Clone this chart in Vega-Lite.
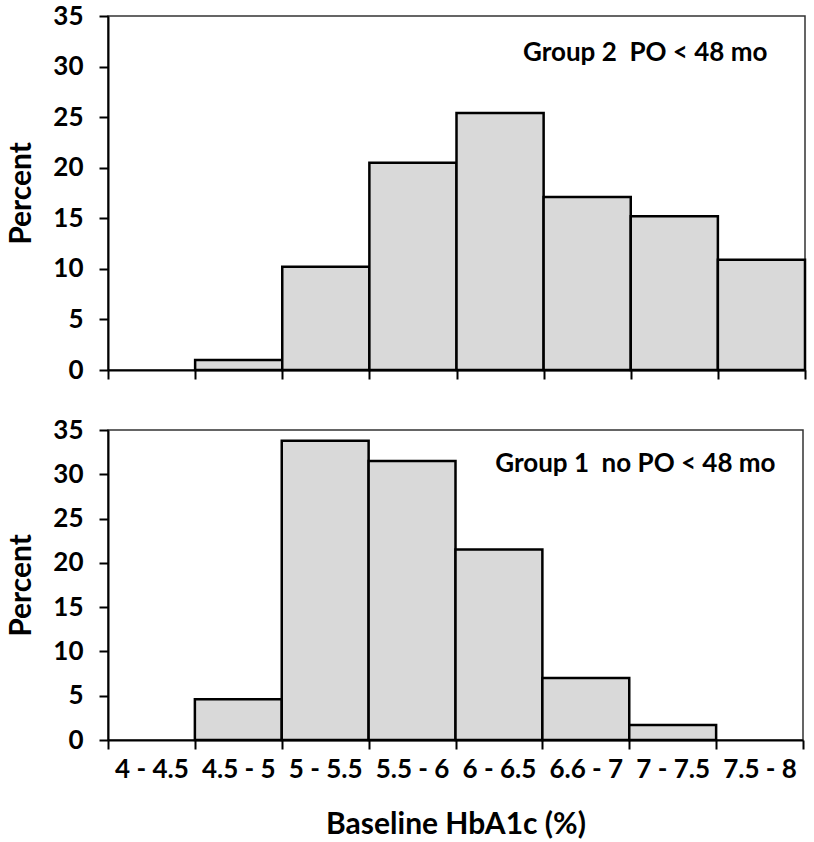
{
  "$schema": "https://vega.github.io/schema/vega-lite/v6.json",
  "background": "white",
  "padding": {"left": 6, "top": 2, "right": 5, "bottom": 0},
  "spacing": 32,
  "config": {
    "font": "Lato",
    "view": {"stroke": "#333333", "strokeWidth": 1.5},
    "axis": {
      "grid": false,
      "domainColor": "black",
      "domainWidth": 2,
      "tickColor": "black",
      "tickWidth": 2,
      "tickSize": 9,
      "labelFont": "Lato",
      "labelFontWeight": "bold",
      "labelFontSize": 26,
      "labelColor": "black",
      "titleFont": "Lato",
      "titleFontWeight": "bold",
      "titleFontSize": 30,
      "titleColor": "black"
    }
  },
  "datasets": {
    "bins": [
      {"group": "Group 2", "bin": "4.5 - 5", "pct": 1.0},
      {"group": "Group 2", "bin": "5 - 5.5", "pct": 10.2},
      {"group": "Group 2", "bin": "5.5 - 6", "pct": 20.5},
      {"group": "Group 2", "bin": "6 - 6.5", "pct": 25.4},
      {"group": "Group 2", "bin": "6.6 - 7", "pct": 17.1},
      {"group": "Group 2", "bin": "7 - 7.5", "pct": 15.2},
      {"group": "Group 2", "bin": "7.5 - 8", "pct": 10.9},
      {"group": "Group 1", "bin": "4.5 - 5", "pct": 4.6},
      {"group": "Group 1", "bin": "5 - 5.5", "pct": 33.8},
      {"group": "Group 1", "bin": "5.5 - 6", "pct": 31.5},
      {"group": "Group 1", "bin": "6 - 6.5", "pct": 21.5},
      {"group": "Group 1", "bin": "6.6 - 7", "pct": 7.0},
      {"group": "Group 1", "bin": "7 - 7.5", "pct": 1.7}
    ],
    "notes": [
      {"group": "Group 2", "label": "Group 2\u00a0 PO < 48 mo"},
      {"group": "Group 1", "label": "Group 1\u00a0 no PO < 48 mo"}
    ]
  },
  "vconcat": [
    {
      "width": 697,
      "height": 354,
      "layer": [
        {
          "data": {"name": "bins"},
          "transform": [{"filter": "datum.group == 'Group 2'"}],
          "mark": {"type": "bar", "fill": "#d9d9d9", "stroke": "black", "strokeWidth": 2.5},
          "encoding": {
            "x": {
              "field": "bin", "type": "nominal",
              "scale": {"domain": ["4 - 4.5", "4.5 - 5", "5 - 5.5", "5.5 - 6", "6 - 6.5", "6.6 - 7", "7 - 7.5", "7.5 - 8"], "paddingInner": 0, "paddingOuter": 0},
              "axis": {"title": null, "labels": false, "tickBand": "extent"}
            },
            "y": {
              "field": "pct", "type": "quantitative",
              "scale": {"domain": [0, 35]},
              "axis": {"title": "Percent", "values": [0, 5, 10, 15, 20, 25, 30, 35], "labelPadding": 16, "titlePadding": 16}
            }
          }
        },
        {
          "data": {"name": "notes"},
          "transform": [{"filter": "datum.group == 'Group 2'"}],
          "mark": {"type": "text", "align": "right", "baseline": "middle", "dx": 6, "font": "Lato", "fontSize": 26, "fontWeight": "bold", "color": "black"},
          "encoding": {
            "x": {"datum": "7.5 - 8", "type": "nominal"},
            "y": {"datum": 31.3, "type": "quantitative"},
            "text": {"field": "label"}
          }
        }
      ]
    },
    {
      "width": 695,
      "height": 310,
      "layer": [
        {
          "data": {"name": "bins"},
          "transform": [{"filter": "datum.group == 'Group 1'"}],
          "mark": {"type": "bar", "fill": "#d9d9d9", "stroke": "black", "strokeWidth": 2.5},
          "encoding": {
            "x": {
              "field": "bin", "type": "nominal",
              "scale": {"domain": ["4 - 4.5", "4.5 - 5", "5 - 5.5", "5.5 - 6", "6 - 6.5", "6.6 - 7", "7 - 7.5", "7.5 - 8"], "paddingInner": 0, "paddingOuter": 0},
              "axis": {"title": "Baseline HbA1c (%)", "labelAngle": 0, "tickBand": "extent", "labelPadding": 7, "titlePadding": 27}
            },
            "y": {
              "field": "pct", "type": "quantitative",
              "scale": {"domain": [0, 35]},
              "axis": {"title": "Percent", "values": [0, 5, 10, 15, 20, 25, 30, 35], "labelPadding": 16, "titlePadding": 16}
            }
          }
        },
        {
          "data": {"name": "notes"},
          "transform": [{"filter": "datum.group == 'Group 1'"}],
          "mark": {"type": "text", "align": "right", "baseline": "middle", "dx": 16, "font": "Lato", "fontSize": 26, "fontWeight": "bold", "color": "black"},
          "encoding": {
            "x": {"datum": "7.5 - 8", "type": "nominal"},
            "y": {"datum": 31.2, "type": "quantitative"},
            "text": {"field": "label"}
          }
        }
      ]
    }
  ]
}
